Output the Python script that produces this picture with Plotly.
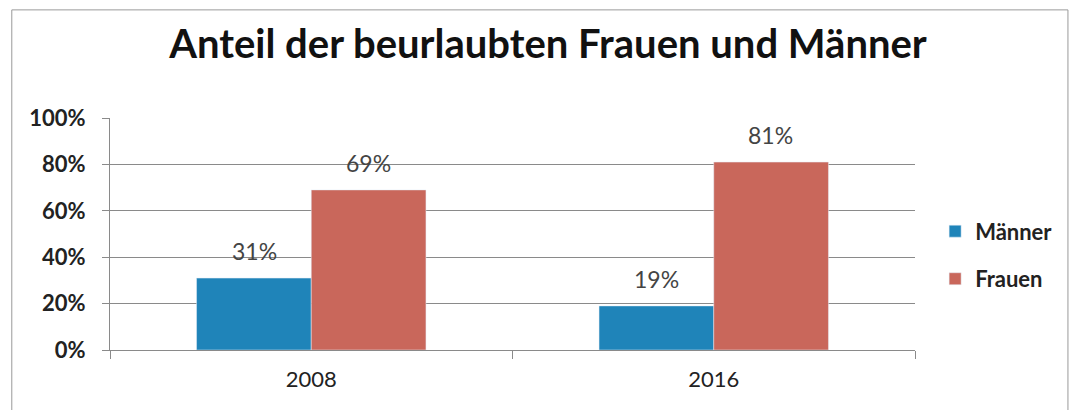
import plotly.graph_objects as go

years = ["2008", "2016"]
maenner = [31, 19]
frauen = [69, 81]
y_ticks = [0, 20, 40, 60, 80, 100]
y_tick_labels = ["0%", "20%", "40%", "60%", "80%", "100%"]

font = "Lato, Open Sans, sans-serif"
label_font = dict(size=23, color="#444444", family=font)

fig = go.Figure()
fig.add_trace(go.Bar(name="Männer", x=years, y=maenner, marker_color="#1f84b9",
                     legendgroup="m"))
fig.add_trace(go.Bar(name="Frauen", x=years, y=frauen, marker_color="#c9675b",
                     legendgroup="f"))

# value labels above the bars (group offsets: half of a bar-width each side)
bar_half_offset = 57
for series, sign in ((maenner, -1), (frauen, 1)):
    for i, v in enumerate(series):
        fig.add_annotation(x=i, y=v, text=f"{v}%", showarrow=False,
                           xanchor="center", yanchor="bottom",
                           xshift=sign * bar_half_offset, yshift=11,
                           font=label_font)

fig.update_layout(
    width=1080, height=410,
    paper_bgcolor="white", plot_bgcolor="white",
    font=dict(family=font, size=23, color="#222222"),
    title=dict(text="<b>Anteil der beurlaubten Frauen und Männer</b>",
               x=0.5, xanchor="center", y=0.913, yanchor="middle",
               font=dict(size=40, color="#111111", family=font)),
    barmode="group", bargap=0.43, bargroupgap=0,
    margin=dict(l=102, r=173, t=110, b=68),
    legend=dict(x=1.025, y=0.408, xanchor="left", yanchor="middle",
                font=dict(size=22, color="#222222", family=font, weight="bold"),
                tracegroupgap=16, traceorder="grouped", itemwidth=30),
    showlegend=True,
)
fig.update_yaxes(range=[0, 100], tickvals=y_ticks, ticktext=y_tick_labels,
                 showgrid=True, gridcolor="#8a8a8a", gridwidth=1,
                 showline=True, linecolor="#8a8a8a", linewidth=1,
                 ticks="outside", ticklen=7, tickcolor="#8a8a8a",
                 ticklabelstandoff=12, zeroline=False,
                 tickfont=dict(size=22, color="#222222", family=font, weight="bold"))
fig.update_xaxes(type="category", range=[-0.5, len(years) - 0.5],
                 showline=True, linecolor="#8a8a8a", linewidth=1,
                 ticks="outside", tickson="boundaries", ticklen=8,
                 tickcolor="#8a8a8a", ticklabelstandoff=10,
                 tickfont=dict(size=22, color="#222222", family=font))

fig.add_shape(type="rect", xref="paper", yref="paper", x0=-0.122, x1=1.19,
              y0=-0.4, y1=1.466, line=dict(color="#9a9a9a", width=1))

fig.write_html("out.html")
